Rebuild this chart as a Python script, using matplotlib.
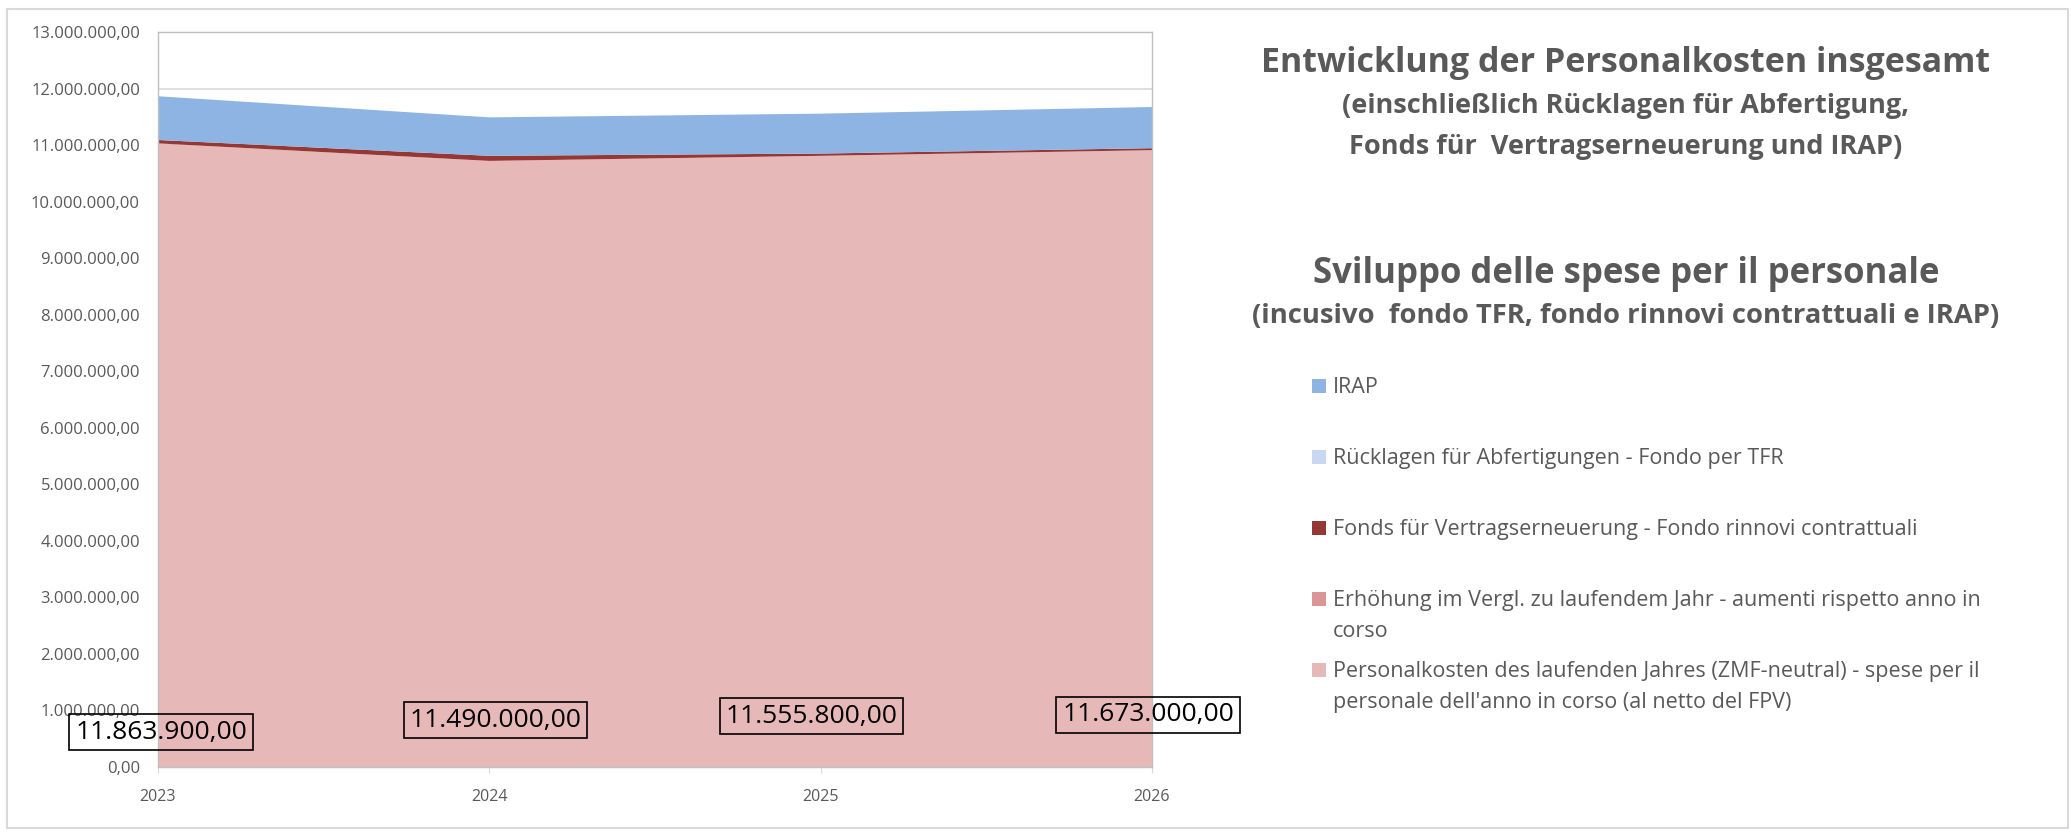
import matplotlib
matplotlib.use("Agg")
import matplotlib.pyplot as plt
from matplotlib.ticker import FuncFormatter, MultipleLocator
from matplotlib.patches import Rectangle

plt.rcParams['font.family'] = ['Open Sans', 'DejaVu Sans']

# ---------------- data ----------------
years = [2023, 2024, 2025, 2026]
personalkosten = [11030000, 10720000, 10810000, 10910000]   # Personalkosten des laufenden Jahres
erhoehung = [0, 0, 0, 0]                                      # Erhöhung im Vergl. zu laufendem Jahr
fonds = [60000, 90000, 40000, 35000]                          # Fonds für Vertragserneuerung
tfr = [0, 0, 0, 0]                                            # Rücklagen für Abfertigungen
irap = [773900, 680000, 705800, 728000]                       # IRAP
totals = [11863900.00, 11490000.00, 11555800.00, 11673000.00]

series_labels = [
    "Personalkosten des laufenden Jahres (ZMF-neutral) - spese per il\npersonale dell'anno in corso (al netto del FPV)",
    "Erhöhung im Vergl. zu laufendem Jahr - aumenti rispetto anno in\ncorso",
    "Fonds für Vertragserneuerung - Fondo rinnovi contrattuali",
    "Rücklagen für Abfertigungen - Fondo per TFR",
    "IRAP",
]
colors = ["#E6B9B8", "#D99694", "#953735", "#C6D9F1", "#8EB4E3"]

title_lines = [
    ("Entwicklung der Personalkosten insgesamt", 24.5),
    ("(einschließlich Rücklagen für Abfertigung,", 19.5),
    ("Fonds für  Vertragserneuerung und IRAP)", 19.5),
    ("Sviluppo delle spese per il personale", 25),
    ("(incusivo  fondo TFR, fondo rinnovi contrattuali e IRAP)", 19.7),
]

# ---------------- layout ----------------
W, H = 2071, 832
fig = plt.figure(figsize=(W / 100, H / 100), dpi=100)
ax = fig.add_axes([158 / W, 1 - 767 / H, (1152 - 158) / W, (767 - 32) / H])

grey = "#595959"


def de_fmt(v, pos=None):
    s = f"{v:,.2f}"
    return s.replace(",", "X").replace(".", ",").replace("X", ".")


ax.stackplot(years, personalkosten, erhoehung, fonds, tfr, irap,
             colors=colors, linewidth=0, zorder=2)

ax.set_xlim(years[0], years[-1])
ax.set_ylim(0, 13000000)
ax.yaxis.set_major_locator(MultipleLocator(1000000))
ax.yaxis.set_major_formatter(FuncFormatter(de_fmt))
ax.set_xticks(years)
ax.set_xticklabels([str(y) for y in years])
ax.grid(axis="y", color="#D9D9D9", linewidth=1.2, zorder=1)
ax.set_axisbelow(True)
for sp in ax.spines.values():
    sp.set_color("#BFBFBF")
    sp.set_linewidth(1.0)
ax.tick_params(axis="y", length=0, pad=13, labelsize=12, labelcolor=grey)
ax.tick_params(axis="x", length=4, color="#D9D9D9", pad=12, labelsize=11.5, labelcolor=grey)

# total labels (boxed)
label_offsets_px = [(3, 35), (6, 47), (-9, 51), (-4, 52)]
for yr, tot, (dx, dy) in zip(years, totals, label_offsets_px):
    ax.annotate(de_fmt(tot), xy=(yr, 0), xycoords="data",
                xytext=(dx * 0.72, dy * 0.72), textcoords="offset points",
                ha="center", va="center", fontsize=19, color="#000000",
                bbox=dict(boxstyle="square,pad=0.22", facecolor="none",
                          edgecolor="#000000", linewidth=1.2),
                zorder=5, annotation_clip=False)

# titles
baselines = [71.7, 113, 154, 283, 323]
for (txt, fs), b in zip(title_lines, baselines):
    fig.text(1626 / W, 1 - b / H, txt, ha="center", va="baseline",
             fontsize=fs, fontweight="bold", color=grey)

# legend (manual)
legend_baselines = [393, 464, 535, 606, 677]
line_step = 31
order = [4, 3, 2, 1, 0]
for idx, b in zip(order, legend_baselines):
    fig.patches.append(Rectangle((1312 / W, 1 - b / H), 14 / W, 14 / H,
                                 transform=fig.transFigure, facecolor=colors[idx],
                                 edgecolor="none"))
    for k, line in enumerate(series_labels[idx].split("\n")):
        fig.text(1333 / W, 1 - (b + k * line_step) / H, line, ha="left", va="baseline",
                 fontsize=15.5, color=grey)

# outer chart border
fig.patches.append(Rectangle((7 / W, 1 - 828 / H), (2068 - 7) / W, (828 - 9) / H,
                             transform=fig.transFigure, facecolor="none",
                             edgecolor="#D9D9D9", linewidth=1.5))

fig.savefig("out.png", dpi=100)
